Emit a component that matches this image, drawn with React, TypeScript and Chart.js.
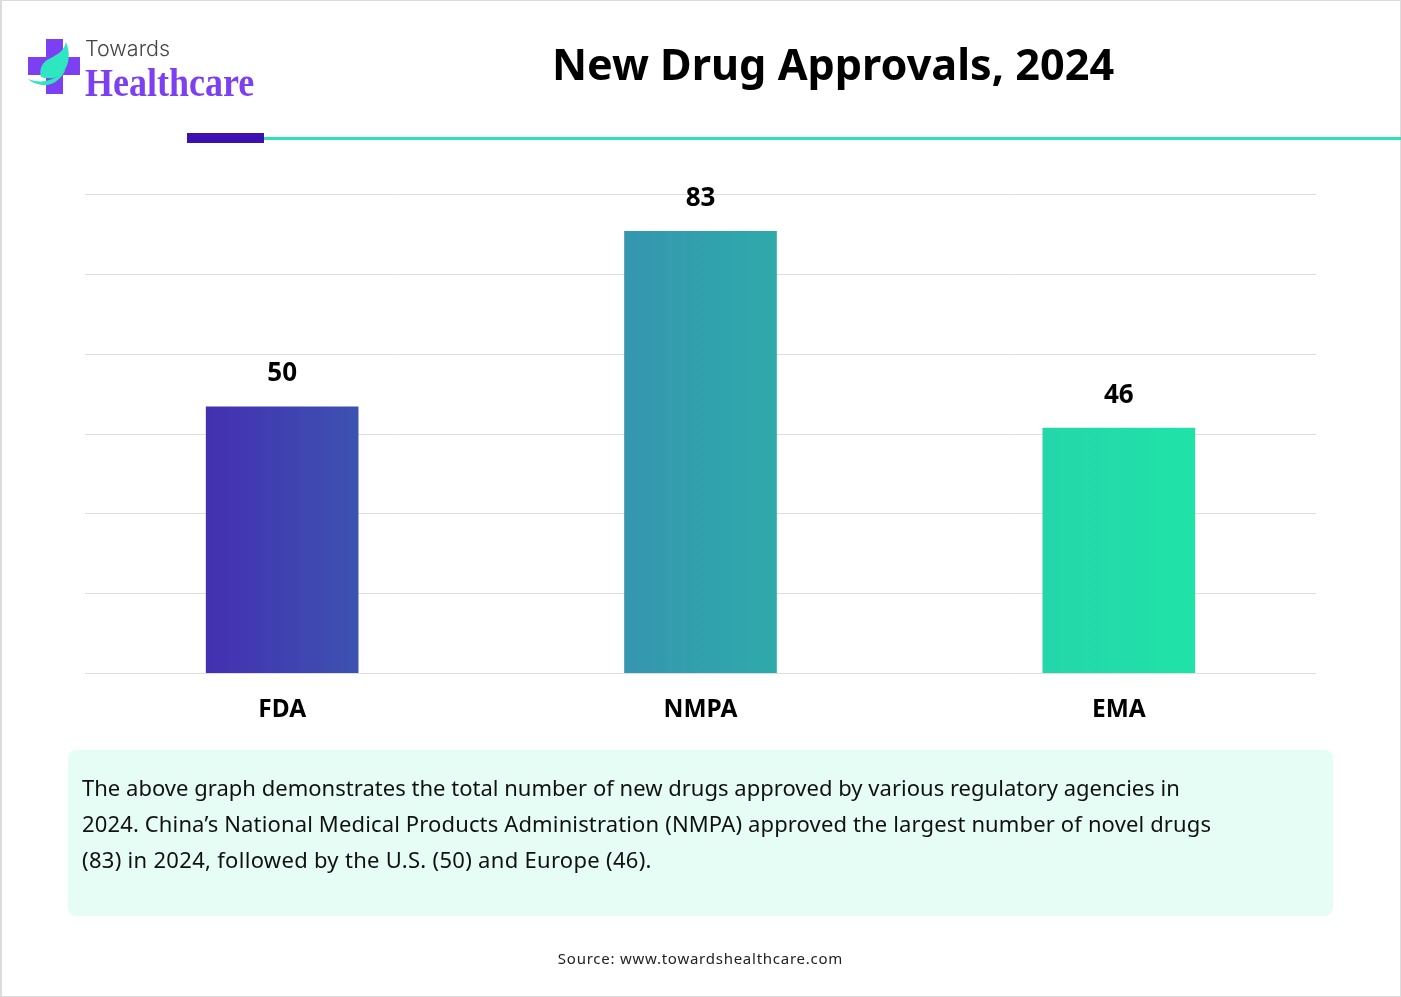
import React, { useEffect, useRef } from "react";
import { Chart, registerables } from "chart.js";

Chart.register(...registerables);

const categories = ["FDA", "NMPA", "EMA"];
const approvals = [50, 83, 46];
const axisMax = 90;
const axisStep = 15;
const paragraphLines = [
  "The above graph demonstrates the total number of new drugs approved by various regulatory agencies in",
  "2024. China\u2019s National Medical Products Administration (NMPA) approved the largest number of novel drugs",
  "(83) in 2024, followed by the U.S. (50) and Europe (46).",
];
const paragraphTracking = [0.02, 0.14, 0.3];
const chartTitle = "New Drug Approvals, 2024";
const sourceText = "Source: www.towardshealthcare.com";

const barStops: [number, string][] = [
  [0.106, "#4430b2"],
  [0.227, "#3c52b0"],
  [0.44, "#3596b0"],
  [0.56, "#2eaaaa"],
  [0.77, "#24d6aa"],
  [0.89, "#20e2a8"],
];

const gridPlugin = {
  id: "shortGrid",
  beforeDatasetsDraw(chart: any) {
    const { ctx, scales } = chart;
    ctx.save();
    ctx.strokeStyle = "#dedede";
    ctx.lineWidth = 1;
    scales.y.ticks.forEach((_: any, i: number) => {
      const y = Math.round(scales.y.getPixelForTick(i)) + 0.5;
      ctx.beginPath();
      ctx.moveTo(85, y);
      ctx.lineTo(1316, y);
      ctx.stroke();
    });
    ctx.restore();
  },
};

const labelPlugin = {
  id: "barLabels",
  afterDatasetsDraw(chart: any) {
    const { ctx } = chart;
    const meta = chart.getDatasetMeta(0);
    ctx.save();
    ctx.fillStyle = "#000";
    ctx.font = "bold 26px 'Noto Sans'";
    ctx.textAlign = "center";
    ctx.textBaseline = "middle";
    meta.data.forEach((bar: any, i: number) => {
      ctx.fillText(String(approvals[i]), bar.x, bar.y - 33);
    });
    ctx.restore();
  },
};

export default function App() {
  const ref = useRef<HTMLCanvasElement | null>(null);

  useEffect(() => {
    document.body.style.margin = "0";
    const chart = new Chart(ref.current!, {
      type: "bar",
      data: {
        labels: categories,
        datasets: [
          {
            data: approvals,
            barThickness: 152,
            backgroundColor: (c: any) => {
              const area = c.chart.chartArea;
              if (!area) return "#3596b0";
              const g = c.chart.ctx.createLinearGradient(area.left, 0, area.right, 0);
              barStops.forEach(([p, col]) => g.addColorStop(p, col));
              return g;
            },
          },
        ],
      },
      options: {
        responsive: false,
        animation: false,
        layout: { padding: { left: 73, right: 73, top: 194, bottom: 264 } },
        plugins: { legend: { display: false }, tooltip: { enabled: false }, title: { display: false } },
        scales: {
          x: {
            grid: { display: false },
            border: { display: false },
            afterFit: (s: any) => {
              s.height = 60;
            },
            ticks: {
              color: "#000",
              padding: 14,
              font: { family: "'Noto Sans'", size: 24.5, weight: "bold" },
            },
          },
          y: {
            display: true,
            min: 0,
            max: axisMax,
            grid: { display: false },
            border: { display: false },
            afterFit: (s: any) => {
              s.width = 0;
            },
            ticks: { stepSize: axisStep, display: false },
          },
        },
      },
      plugins: [gridPlugin, labelPlugin],
    } as any);
    return () => chart.destroy();
  }, []);

  const abs = (o: React.CSSProperties): React.CSSProperties => ({ position: "absolute", ...o });

  return (
    <div style={abs({ left: 0, top: 0, width: 1401, height: 997, background: "#fff", overflow: "hidden", fontFamily: "'Noto Sans'" })}>
      <canvas ref={ref} width={1401} height={997} style={abs({ left: 0, top: 0, display: "block" })} />

      <div style={abs({ left: 0, top: 0, width: 1398, height: 995, borderStyle: "solid", borderColor: "#dcdcdc", borderWidth: "1px 1px 1px 2px", pointerEvents: "none" })} />

      <svg width={60} height={64} viewBox="0 0 60 64" style={abs({ left: 26, top: 36 })}>
        <path d="M20 3H37V21H54V39H37V58H20V39H2V21H20Z" fill="#7c3ff2" />
        <path d="M40 6C44 16 44 27 38 35C33 42 24 44 15 41C13 35 15 28 21 24C30 19 38 16 40 6Z" fill="#2ee6c0" />
        <path d="M2 43C14 48 28 46 40 33C34 46 24 50 16 49C10 48 5 46 2 43Z" fill="#2ee6c0" />
      </svg>
      <div style={abs({ left: 85, top: 34, fontFamily: "Inter", fontWeight: 300, fontSize: 21.5, color: "#444", lineHeight: "28px", whiteSpace: "nowrap" })}>Towards</div>
      <div style={abs({ left: 85, top: 61, fontFamily: "'Liberation Serif'", fontWeight: 700, fontSize: 40, color: "#7c3ff2", lineHeight: "44px", whiteSpace: "nowrap", transform: "scaleX(0.9)", transformOrigin: "left center" })}>Healthcare</div>

      <div style={abs({ left: 533, top: 35, width: 600, textAlign: "center", fontWeight: 700, fontSize: 43.2, color: "#000", lineHeight: "58px", whiteSpace: "nowrap" })}>{chartTitle}</div>

      <div style={abs({ left: 264, top: 137, width: 1137, height: 3, background: "#2de0b6" })} />
      <div style={abs({ left: 187, top: 133, width: 77, height: 10, background: "#3d10b4" })} />

      <div style={abs({ left: 68, top: 750, width: 1265, height: 166, background: "#e6fdf6", borderRadius: 8 })} />
      {paragraphLines.map((t, i) => (
        <div key={i} style={abs({ left: 82, top: 769 + i * 36, fontSize: 22, letterSpacing: paragraphTracking[i], lineHeight: "36px", color: "#111", whiteSpace: "nowrap" })}>{t}</div>
      ))}

      <div style={abs({ left: 400, top: 947, width: 601, textAlign: "center", fontSize: 15, letterSpacing: 0.75, lineHeight: "22px", color: "#222", whiteSpace: "nowrap" })}>{sourceText}</div>
    </div>
  );
}
